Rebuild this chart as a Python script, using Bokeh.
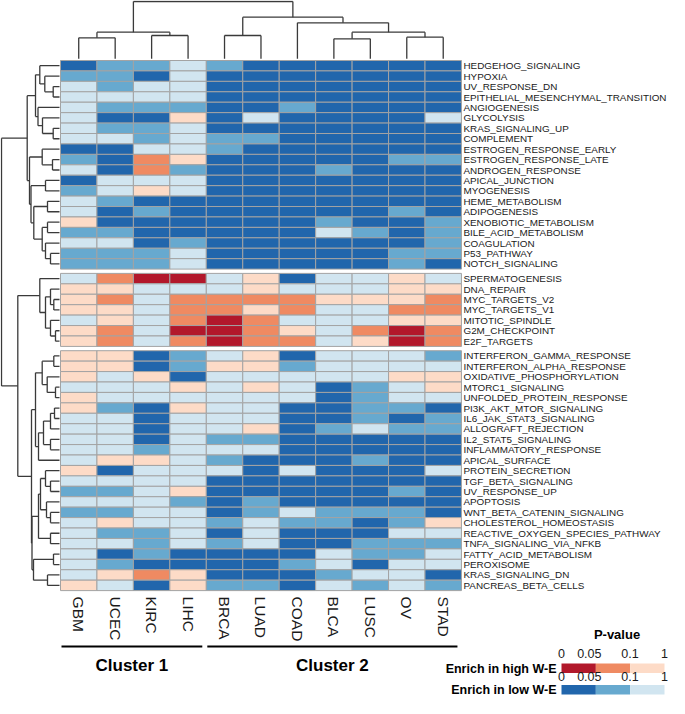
import numpy as np
from bokeh.plotting import figure
from bokeh.models import Range1d
from bokeh.embed import file_html
from bokeh.resources import INLINE
from bokeh.core.properties import value

# ---------------- data ----------------
cancers = ["GBM", "UCEC", "KIRC", "LIHC", "BRCA", "LUAD", "COAD", "BLCA", "LUSC", "OV", "STAD"]

# level codes: +3 p<0.05 high W-E, +2 0.05-0.1 high, +1 >0.1 high,
#              -3 p<0.05 low W-E,  -2 0.05-0.1 low,  -1 >0.1 low
group1_pathways = ["HEDGEHOG_SIGNALING", "HYPOXIA", "UV_RESPONSE_DN", "EPITHELIAL_MESENCHYMAL_TRANSITION",
                   "ANGIOGENESIS", "GLYCOLYSIS", "KRAS_SIGNALING_UP", "COMPLEMENT", "ESTROGEN_RESPONSE_EARLY",
                   "ESTROGEN_RESPONSE_LATE", "ANDROGEN_RESPONSE", "APICAL_JUNCTION", "MYOGENESIS",
                   "HEME_METABOLISM", "ADIPOGENESIS", "XENOBIOTIC_METABOLISM", "BILE_ACID_METABOLISM",
                   "COAGULATION", "P53_PATHWAY", "NOTCH_SIGNALING"]
group1_values = [
    [-3, -2, -2, -1, -2, -3, -3, -3, -3, -3, -3],
    [-2, -2, -3, -1, -3, -3, -3, -3, -3, -3, -3],
    [-1, -2, -1, -1, -3, -3, -3, -3, -3, -3, -3],
    [-1, -1, -1, -1, -3, -3, -3, -3, -3, -3, -3],
    [-1, -2, -2, -2, -3, -3, -2, -3, -3, -3, -3],
    [-1, -3, -3, 1, -3, -1, -3, -3, -3, -3, -1],
    [-1, -2, -2, -1, -3, -3, -3, -3, -3, -3, -3],
    [-1, -1, -2, -1, -2, -2, -3, -3, -3, -3, -3],
    [-3, -3, -1, -1, -2, -3, -3, -3, -3, -3, -3],
    [-2, -3, 2, 1, -3, -3, -3, -3, -3, -2, -2],
    [-1, -3, 2, -2, -3, -3, -3, -2, -3, -3, -3],
    [-3, -1, -1, -1, -3, -3, -3, -3, -3, -3, -3],
    [-2, -1, 1, -1, -3, -3, -3, -3, -3, -3, -3],
    [-1, -2, -3, -3, -3, -3, -3, -3, -3, -3, -3],
    [-1, -3, -2, -3, -3, -3, -3, -3, -3, -2, -3],
    [1, -3, -3, -3, -3, -3, -3, -2, -3, -3, -2],
    [-2, -2, -3, -3, -3, -3, -3, -1, -2, -3, -2],
    [-1, -1, -3, -2, -3, -3, -3, -3, -3, -3, -2],
    [-2, -2, -2, -1, -3, -3, -3, -3, -3, -2, -2],
    [-2, -2, -2, -1, -3, -3, -3, -3, -3, -2, -3],
]

group2_pathways = ["SPERMATOGENESIS", "DNA_REPAIR", "MYC_TARGETS_V2", "MYC_TARGETS_V1",
                   "MITOTIC_SPINDLE", "G2M_CHECKPOINT", "E2F_TARGETS"]
group2_values = [
    [-1, 2, 3, 3, -1, 1, -3, -1, -1, 1, -1],
    [1, 1, -1, -1, -1, 1, -1, -1, -1, 1, 1],
    [1, 2, -1, 2, 2, 2, 2, 1, 1, 1, 2],
    [1, 1, -1, 2, 2, 1, 2, -1, -1, 2, 2],
    [-1, 1, -1, 2, 3, 2, -1, -1, -1, 1, 1],
    [1, 2, -1, 3, 3, 2, 1, -1, 2, 3, 2],
    [1, 2, -1, 2, 3, 2, 2, -1, 1, 3, 2],
]

group3_pathways = ["INTERFERON_GAMMA_RESPONSE", "INTERFERON_ALPHA_RESPONSE", "OXIDATIVE_PHOSPHORYLATION",
                   "MTORC1_SIGNALING", "UNFOLDED_PROTEIN_RESPONSE", "PI3K_AKT_MTOR_SIGNALING",
                   "IL6_JAK_STAT3_SIGNALING", "ALLOGRAFT_REJECTION", "IL2_STAT5_SIGNALING",
                   "INFLAMMATORY_RESPONSE", "APICAL_SURFACE", "PROTEIN_SECRETION", "TGF_BETA_SIGNALING",
                   "UV_RESPONSE_UP", "APOPTOSIS", "WNT_BETA_CATENIN_SIGNALING", "CHOLESTEROL_HOMEOSTASIS",
                   "REACTIVE_OXYGEN_SPECIES_PATHWAY", "TNFA_SIGNALING_VIA_NFKB", "FATTY_ACID_METABOLISM",
                   "PEROXISOME", "KRAS_SIGNALING_DN", "PANCREAS_BETA_CELLS"]
group3_values = [
    [1, 1, -3, -2, -1, 1, -3, -1, -1, -1, -2],
    [1, 1, -3, -2, 1, 1, -2, -1, -1, -1, -1],
    [1, -1, 1, -3, -1, -1, -1, -1, -1, 1, 1],
    [-1, -1, -1, 1, -1, 1, -1, -3, -2, -1, 1],
    [1, -1, -1, -1, -1, -1, -1, -3, -2, -1, -1],
    [1, -2, -3, 1, -1, -1, -3, -3, -2, -2, -3],
    [-1, -1, -3, -1, -1, -1, -3, -3, -2, -3, -2],
    [-1, -1, -3, -1, -1, 1, -3, -2, -1, -2, -2],
    [-1, -1, -3, -1, -2, -2, -3, -3, -3, -3, -3],
    [-1, -1, -2, -1, -1, -1, -3, -3, -3, -3, -3],
    [-1, 1, 1, -1, -2, -3, -3, -3, -2, -3, -3],
    [1, -3, -1, -1, -1, -3, -1, -3, -3, -3, -1],
    [-1, -1, -1, -1, -3, -3, -3, -3, -3, -3, -3],
    [-2, -2, -1, 1, -3, -3, -3, -3, -3, -2, -3],
    [-1, -1, -1, -2, -3, -2, -3, -3, -3, -3, -3],
    [-2, -2, -1, -1, -3, -2, -1, -2, -2, -2, -3],
    [-1, 1, -1, -1, -2, -1, -2, -2, -3, -2, 1],
    [-1, -2, -2, -1, -3, -1, -3, -3, -3, -1, -1],
    [-1, -1, -2, -1, -2, -1, -3, -3, -2, -2, -2],
    [-1, -3, -2, -3, -3, -3, -3, -1, -2, -2, -1],
    [-1, -2, -3, -3, -3, -3, -2, -1, -3, -1, -1],
    [-1, 1, 2, 1, -3, -3, -3, -2, -1, -1, -3],
    [1, -1, -3, 1, -2, -2, -3, -1, -2, -1, -2],
]

# dendrograms: (left, right, merge height); leaves are column / row indices
col_tree = (((0, 1, 22.7), (2, 3, 25.0), 28.3),
            ((4, 5, 25.0), (6, ((7, 8, 21.7), (9, 10, 23.3), 28.3), 37.7), 43.3),
            59.0)

row_tree_g1 = (((0, (1, (2, 3, 7.3), 15.7), 20.7), (4, (5, (6, 7, 7.3), 18.0), 22.5), 25.0),
               ((8, (9, 10, 8.0), 18.3),
                ((11, 12, 15.0), ((13, 14, 13.0), ((15, 16, 13.0), (17, (18, 19, 10.0), 15.0), 18.3), 26.7), 29.5),
                31.0),
               33.3)
row_tree_g2 = (20, ((21, (22, 23, 6.7), 10.0), (24, (25, 26, 5.0), 10.0), 15.0), 20.7)
row_tree_g3 = ((((27, 28, 6.7), (29, (30, 31, 5.0), 13.3), 18.3),
                ((((32, 33, 6.0), 34, 10.0), (35, 36, 10.0), 17.0), 37, 22.0), 25.0),
               ((((38, (39, 40, 10.0), 15.0), (41, (42, 43, 10.0), 14.0), 20.0), (44, 45, 10.0), 22.0),
                ((46, 47, 7.0), (48, 49, 13.0), 27.0), 28.5),
               29.0)
row_tree = (row_tree_g1, (row_tree_g2, row_tree_g3, 42.7), 59.0)

level_colors = {3: "#B2182B", 2: "#EF8A62", 1: "#FDDBC7", -1: "#D1E5F0", -2: "#67A9CF", -3: "#2166AC"}
legend_ticks = ["0", "0.05", "0.1", "1"]

# ---------------- layout ----------------
W, H = 669, 698
HM_LEFT, HM_TOP = 60.0, 60.0
CELL_W, CELL_H, GAP = 36.45, 10.43, 4.3
HM_RIGHT = HM_LEFT + CELL_W * len(cancers)

groups = [(group1_pathways, group1_values), (group2_pathways, group2_values), (group3_pathways, group3_values)]
row_names, row_vals, row_top = [], [], []
y = HM_TOP
for names, vals in groups:
    for n, v in zip(names, vals):
        row_names.append(n)
        row_vals.append(v)
        row_top.append(y)
        y += CELL_H
    y += GAP
row_center = [t + CELL_H / 2 for t in row_top]
col_center = [HM_LEFT + CELL_W * (i + 0.5) for i in range(len(cancers))]

p = figure(width=W, height=H, output_backend="svg", toolbar_location=None,
           x_range=Range1d(0, W), y_range=Range1d(H, 0), min_border=0)
p.axis.visible = False
p.grid.visible = False
p.outline_line_color = None
p.background_fill_color = "white"

# heatmap cells
cx, cy, cc = [], [], []
for r, vals in enumerate(row_vals):
    for c, v in enumerate(vals):
        cx.append(col_center[c])
        cy.append(row_center[r])
        cc.append(level_colors[v])
p.rect(x=cx, y=cy, width=CELL_W, height=CELL_H, fill_color=cc, line_color="#A3A3A3", line_width=1)

# dendrograms
def walk(node, leafpos, segs):
    if isinstance(node, int):
        return leafpos[node], 0.0
    l, r, h = node
    pl, hl = walk(l, leafpos, segs)
    pr, hr = walk(r, leafpos, segs)
    segs.append((pl, hl, pl, h))
    segs.append((pr, hr, pr, h))
    segs.append((pl, h, pr, h))
    return (pl + pr) / 2, h

segs = []
walk(col_tree, col_center, segs)
x0 = [s[0] for s in segs]; x1 = [s[2] for s in segs]
y0 = [HM_TOP - max(s[1], 1.7) for s in segs]; y1 = [HM_TOP - max(s[3], 1.7) for s in segs]
p.segment(x0=x0, y0=y0, x1=x1, y1=y1, line_color="#3A3A3A", line_width=1.3)

segs = []
walk(row_tree, row_center, segs)
y0 = [s[0] for s in segs]; y1 = [s[2] for s in segs]
x0 = [HM_LEFT - max(s[1], 1.0) for s in segs]; x1 = [HM_LEFT - max(s[3], 1.0) for s in segs]
p.segment(x0=x0, y0=y0, x1=x1, y1=y1, line_color="#3A3A3A", line_width=1.3)

# row labels
p.text(x=[HM_RIGHT + 2.0] * len(row_names), y=row_center, text=row_names,
       text_font=value("Liberation Sans"), text_font_size="9.9px", text_color="#1A1A1A",
       text_align="left", text_baseline="middle")

# column labels
lab_y = row_top[-1] + CELL_H + 6
p.text(x=col_center, y=[lab_y] * len(cancers), text=cancers, angle=-np.pi / 2,
       text_font=value("Liberation Sans"), text_font_size="15.5px", text_color="#1A1A1A",
       text_align="left", text_baseline="middle")

# cluster brackets
clusters = [("Cluster 1", 0, 3), ("Cluster 2", 4, 10)]
line_y = 646
for name, a, b in clusters:
    xa = HM_LEFT + CELL_W * a + 1
    xb = HM_LEFT + CELL_W * (b + 1) - 4
    p.line(x=[xa, xb], y=[line_y, line_y], line_color="black", line_width=2)
    p.text(x=[(xa + xb) / 2], y=[665], text=[name], text_font=value("Liberation Sans"),
           text_font_size="17px", text_font_style="bold", text_align="center", text_baseline="middle",
           text_color="black")

# legend
LG_L, LG_W = 561.0, 103.0
seg_w = LG_W / 3
p.text(x=[LG_L + LG_W / 2 + 4], y=[634], text=["P-value"], text_font=value("Liberation Sans"),
       text_font_size="13px", text_font_style="bold", text_align="center", text_baseline="middle")
tick_frac = [0.0, 0.27, 0.665, 1.0]
for (bar_top, lab_y, title, levels) in [(663, 653, "Enrich in high W-E", [3, 2, 1]),
                                         (684.5, 676, "Enrich in low W-E", [-3, -2, -1])]:
    p.rect(x=[LG_L + seg_w * (i + 0.5) for i in range(3)], y=[bar_top + 4.7] * 3,
           width=seg_w, height=9.4, fill_color=[level_colors[l] for l in levels], line_color=None)
    p.text(x=[LG_L + LG_W * f for f in tick_frac], y=[lab_y] * 4, text=legend_ticks,
           text_font=value("Liberation Sans"), text_font_size="12.5px", text_align="center",
           text_baseline="middle", text_color="#1A1A1A")
    p.text(x=[LG_L - 5], y=[bar_top + 5], text=[title], text_font=value("Liberation Sans"),
           text_font_size="12.5px", text_font_style="bold", text_align="right", text_baseline="middle",
           text_color="black")

open("out.html", "w").write(file_html(p, INLINE))
